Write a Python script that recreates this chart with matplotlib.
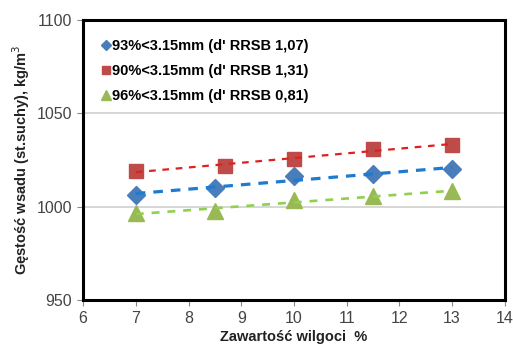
import numpy as np
import matplotlib.pyplot as plt

plt.rcParams['font.family'] = ['Liberation Sans', 'DejaVu Sans']

x_blue = [7, 8.5, 10, 11.5, 13]
y_blue = [1006.4, 1009.9, 1016.5, 1017.6, 1020.0]
x_red = [7, 8.7, 10, 11.5, 13]
y_red = [1019.1, 1022.0, 1025.4, 1031.2, 1033.2]
x_green = [7, 8.5, 10, 11.5, 13]
y_green = [996.5, 997.8, 1003.6, 1005.5, 1008.3]

labels = ["93%<3.15mm (d' RRSB 1,07)",
          "90%<3.15mm (d' RRSB 1,31)",
          "96%<3.15mm (d' RRSB 0,81)"]

fig = plt.figure(figsize=(5.13, 3.45), dpi=100)
ax = fig.add_axes([0.162, 0.13, 0.822, 0.812])

ax.plot(x_blue, y_blue, 'D', color='#4a7ebb', ms=9, label=labels[0], zorder=3)
ax.plot(x_red, y_red, 's', color='#be4b48', ms=10, label=labels[1], zorder=3)
ax.plot(x_green, y_green, '^', color='#98b954', ms=11, label=labels[2], zorder=3)

# linear trendlines
xs = np.array([7, 13])
for xd, yd, c, lw, ds in [(x_red, y_red, '#e02020', 1.6, (3, 3)),
                          (x_blue, y_blue, '#1f7bd0', 2.3, (3, 2.5)),
                          (x_green, y_green, '#8fd14f', 1.9, (3, 3))]:
    k, b = np.polyfit(xd, yd, 1)
    ax.plot(xs, k * xs + b, color=c, lw=lw, dashes=ds, zorder=4)

ax.set_xlim(6, 14)
ax.set_ylim(950, 1100)
ax.set_xticks(range(6, 15))
ax.set_yticks([950, 1000, 1050, 1100])
ax.yaxis.grid(True, color='#d0d0d0', lw=1.2)
ax.set_axisbelow(True)
for s in ax.spines.values():
    s.set_linewidth(2.2)
ax.tick_params(colors='#888888', labelcolor='#444444', labelsize=11.5, length=4, pad=4)

ax.set_xlabel('Zawartość wilgoci  %', fontsize=10.5, fontweight='bold', color='#222222', labelpad=3)
ax.set_ylabel('Gęstość wsadu (st.suchy), kg/m$^3$', fontsize=10.5, fontweight='bold', color='#222222', labelpad=3)

leg = ax.legend(loc='upper left', frameon=False, handlelength=0.6,
                handletextpad=0.1, labelspacing=0.75, markerscale=0.6,
                borderaxespad=0.9, prop={'weight': 'bold', 'size': 10.5})

fig.savefig('out.png', dpi=100)
